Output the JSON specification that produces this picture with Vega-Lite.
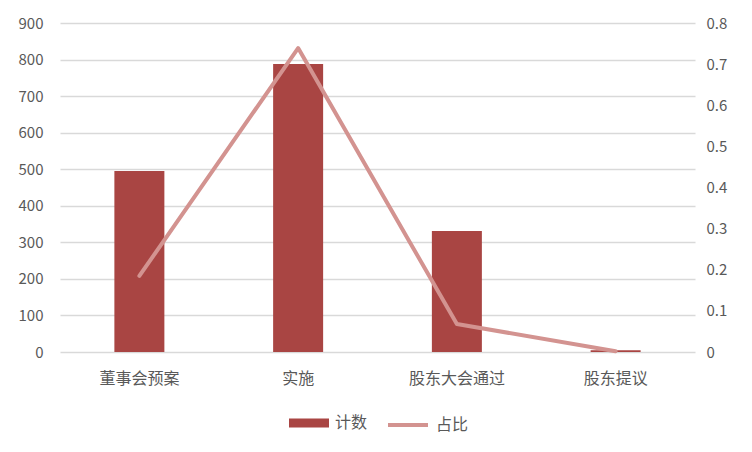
{
  "$schema": "https://vega.github.io/schema/vega-lite/v6.json",
  "autosize": {"type": "none"},
  "width": 635,
  "height": 329,
  "padding": {"left": 60, "top": 23, "right": 57, "bottom": 100},
  "background": "white",
  "config": {
    "view": {"stroke": null},
    "font": "Noto Sans CJK SC",
    "axis": {"labelColor": "#595959", "labelFont": "Noto Sans CJK SC"},
    "legend": {"labelColor": "#595959", "labelFont": "Noto Sans CJK SC", "labelFontSize": 16}
  },
  "data": {
    "values": [
      {"类别": "董事会预案", "计数": 495, "占比": 0.185},
      {"类别": "实施", "计数": 788, "占比": 0.739},
      {"类别": "股东大会通过", "计数": 331, "占比": 0.068},
      {"类别": "股东提议", "计数": 5, "占比": 0.002}
    ]
  },
  "encoding": {
    "x": {
      "field": "类别", "type": "nominal", "sort": null, "title": null,
      "scale": {"paddingInner": 0, "paddingOuter": 0},
      "axis": {"labelAngle": 0, "labelFontSize": 16, "labelPadding": 18, "ticks": false, "domain": false, "grid": false}
    }
  },
  "layer": [
    {
      "mark": {"type": "bar", "width": 50},
      "encoding": {
        "y": {
          "field": "计数", "type": "quantitative", "title": null,
          "scale": {"domain": [0, 900], "nice": false},
          "axis": {"values": [0,100,200,300,400,500,600,700,800,900], "labelFontSize": 15, "labelPadding": 17, "ticks": false, "domain": false, "grid": true, "gridColor": "#d9d9d9", "gridWidth": 1.5}
        },
        "fill": {
          "datum": "计数", "type": "nominal",
          "scale": {"range": ["#A94543"]},
          "legend": {"title": null, "orient": "none", "legendX": 229, "legendY": 380, "symbolType": "M-1,-0.225H1V0.225H-1Z", "symbolSize": 1600, "symbolStrokeWidth": 0, "labelOffset": 6}
        }
      }
    },
    {
      "mark": {"type": "line", "strokeWidth": 4, "strokeCap": "round", "strokeJoin": "round"},
      "encoding": {
        "y": {
          "field": "占比", "type": "quantitative", "title": null,
          "scale": {"domain": [0, 0.8], "nice": false},
          "axis": {"orient": "right", "values": [0,0.1,0.2,0.3,0.4,0.5,0.6,0.7,0.8], "labelExpr": "datum.value == 0 ? '0' : format(datum.value, '.1f')", "labelFontSize": 15, "labelPadding": 11, "ticks": false, "domain": false, "grid": false}
        },
        "stroke": {
          "datum": "占比", "type": "nominal",
          "scale": {"range": ["#D39390"]},
          "legend": {"title": null, "orient": "none", "legendX": 326, "legendY": 380, "symbolType": "stroke", "symbolSize": 1600, "symbolStrokeWidth": 4, "labelOffset": 6}
        }
      }
    }
  ],
  "resolve": {"scale": {"y": "independent"}}
}
